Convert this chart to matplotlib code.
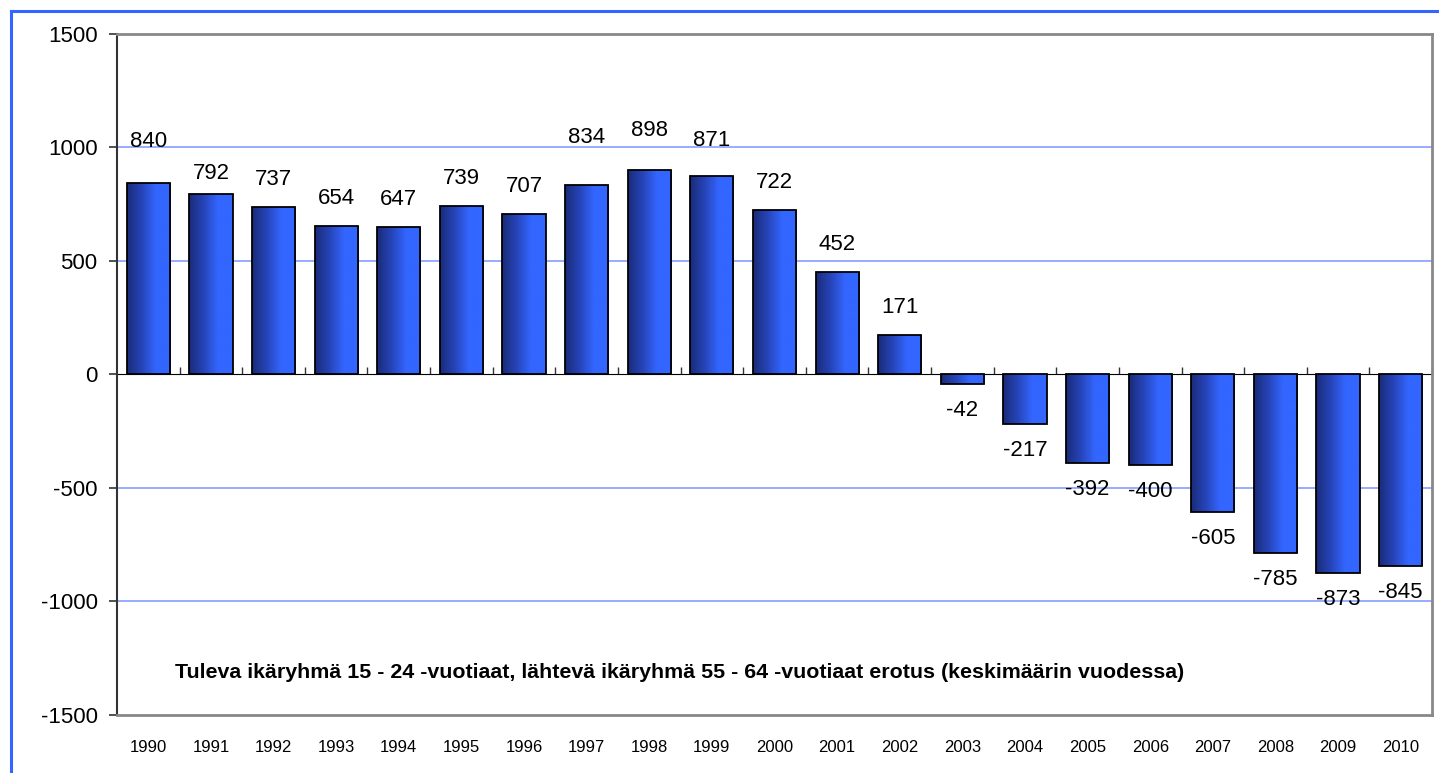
import numpy as np
import matplotlib
matplotlib.use("Agg")
import matplotlib.pyplot as plt
from matplotlib.colors import LinearSegmentedColormap
from matplotlib.lines import Line2D

plt.rcParams['font.family'] = ['Liberation Sans', 'DejaVu Sans']

years = [str(y) for y in range(1990, 2011)]
values = [840, 792, 737, 654, 647, 739, 707, 834, 898, 871, 722,
          452, 171, -42, -217, -392, -400, -605, -785, -873, -845]
title = ("Tuleva ikäryhmä 15 - 24 -vuotiaat, lähtevä ikäryhmä 55 - 64 "
         "-vuotiaat erotus (keskimäärin vuodessa)")

# distance of each value label from its bar end, in pixels
label_gap = [36, 15, 22, 22, 22, 22, 22, 42, 34, 30, 22,
             22, 22, 16, 16, 16, 16, 16, 16, 16, 16]

W, H, DPI = 1439, 773, 100
fig = plt.figure(figsize=(W / DPI, H / DPI), dpi=DPI)
ax = fig.add_axes([117 / W, 1 - 715 / H, (1432 - 117) / W, (715 - 33.5) / H])

x = np.arange(len(values))
bars = ax.bar(x, values, width=0.69, facecolor='none', edgecolor='black',
              linewidth=1.3, zorder=4)

# horizontal gradient fill inside each bar
cmap = LinearSegmentedColormap.from_list(
    'barblue', ['#1a2c78', '#2644b8', '#3366ff', '#3366ff'])
grad = np.linspace(0, 1, 256).reshape(1, -1)
for b in bars:
    bx, by = b.get_x(), b.get_y()
    bw, bh = b.get_width(), b.get_height()
    im = ax.imshow(grad, cmap=cmap, aspect='auto', zorder=3,
                   extent=[bx, bx + bw, by, by + bh], interpolation='bilinear')
    im.set_clip_path(b)

ax.set_xlim(-0.5, len(values) - 0.5)
ax.set_ylim(-1500, 1500)

# grid lines
for v in (-1000, -500, 500, 1000):
    ax.axhline(v, color='#7b96ff', linewidth=1.1, zorder=1)

# frame
ax.spines['left'].set_color('#333333')
ax.spines['left'].set_linewidth(1.5)
for s in ('top', 'right', 'bottom'):
    ax.spines[s].set_color('#888888')
    ax.spines[s].set_linewidth(2)

ax.set_yticks([-1500, -1000, -500, 0, 500, 1000, 1500])
ax.set_yticklabels(['-1500', '-1000', '-500', '0', '500', '1000', '1500'])
ax.tick_params(axis='y', direction='out', length=6, width=1.2,
               color='#333333', labelsize=16, pad=8)

ax.set_xticks(x)
ax.set_xticklabels(years)
ax.tick_params(axis='x', length=0, labelsize=12, pad=18)

# zero axis with category separators
zero = ax.secondary_xaxis(0.5)
zero.spines['bottom'].set_color('black')
zero.spines['bottom'].set_linewidth(1.5)
zero.set_xticks(np.arange(0.5, len(values), 1.0))
zero.xaxis.set_ticklabels([])
zero.tick_params(axis='x', direction='out', length=5, width=1.0,
                 color='#333333', labelbottom=False, labeltop=False)

# value labels
px2pt = 72 / DPI
for i, v in enumerate(values):
    off = label_gap[i] * px2pt
    if v >= 0:
        ax.annotate(f'{v}', (x[i], v), xytext=(0, off), textcoords='offset points',
                    ha='center', va='baseline', fontsize=16, zorder=6)
    else:
        ax.annotate(f'{v}', (x[i], v), xytext=(0, -off), textcoords='offset points',
                    ha='center', va='top', fontsize=16, zorder=6)

ax.text(0.428, 0.0625, title, transform=ax.transAxes, ha='center', va='center',
        fontsize=15.4, fontweight='bold', zorder=6)

# outer blue border (top and left edges)
fig.add_artist(Line2D([10.5 / W, 1.0], [1 - 11 / H, 1 - 11 / H],
                      transform=fig.transFigure, color='#3366ff', linewidth=2.2))
fig.add_artist(Line2D([10.5 / W, 10.5 / W], [0.0, 1 - 11 / H],
                      transform=fig.transFigure, color='#3366ff', linewidth=2.2))

fig.savefig('out.png', dpi=DPI)
